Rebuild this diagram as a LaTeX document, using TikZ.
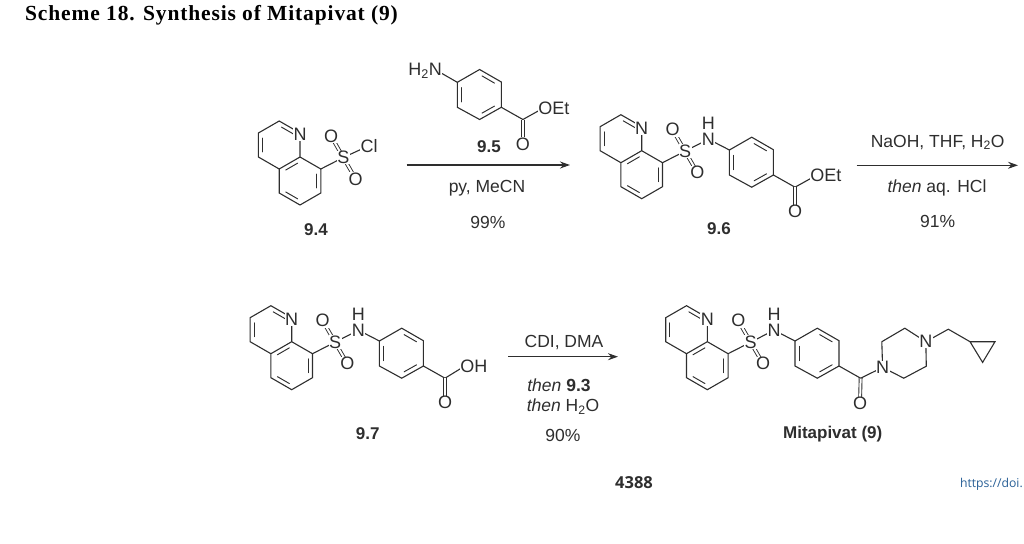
\documentclass[tikz,border=0pt]{standalone}
\usepackage{fontspec}
\setmainfont{Liberation Sans}
\newfontfamily\titlefont[LetterSpace=4]{Liberation Serif}
\newfontfamily\pagefont{Open Sans}
\usetikzlibrary{calc,arrows.meta}
\definecolor{ink}{gray}{0.18}
\definecolor{doiblue}{RGB}{40,95,150}
\tikzset{
  bond/.style={draw=ink,line width=1.1pt,line cap=round},
  inner/.style={draw=ink,line width=0.95pt,line cap=round},
  dblb/.style={draw=ink,line width=0.9pt,double,double distance=2pt},
  atom/.style={fill=white,inner sep=0.5pt,text=ink,font=\fontsize{18}{18}\selectfont},
  lab/.style={text=ink,inner sep=0pt,font=\fontsize{17.5}{17.5}\selectfont},
  cmpd/.style={text=ink,inner sep=0pt,font=\bfseries\fontsize{17}{17}\selectfont},
  rxn/.style={draw=ink,line width=1.2pt,-{Stealth[length=10pt,width=7pt]}},
}
% #1 a, #2 b, #3 ring centre : inner line of a ring double bond
\newcommand{\innerb}[3]{\draw[inner] ($(#1)!.14!(#2)!.2!(#3)$) -- ($(#2)!.14!(#1)!.2!(#3)$);}
% benzene ring, coordinates are relative to the enclosing scope
\newcommand{\benzring}{
  \coordinate (r1) at (87.7,-0.7);\coordinate (r2) at (110,-13.5);\coordinate (r3) at (131.7,-1);
  \coordinate (r4) at (131.7,24.3);\coordinate (r5) at (110,36.5);\coordinate (r6) at (87.7,24.3);
  \coordinate (rc) at (109.7,11.5);\coordinate (co) at (153.3,36.5);
  \draw[bond] (r1)--(r2)--(r3)--(r4)--(r5)--(r6)--cycle;
  \innerb{r1}{r6}{rc}\innerb{r2}{r3}{rc}\innerb{r4}{r5}{rc}
  \draw[bond] (r4)--(co);
}
% quinoline with C8a at the scope origin; #1 is a prefix for the node names
\newcommand{\quinoline}[1]{
  \coordinate (a8a) at (0,0);\coordinate (aN) at (0,-24);\coordinate (a2) at (-20.8,-36);
  \coordinate (a3) at (-41.6,-24);\coordinate (a4) at (-41.6,0);\coordinate (a4a) at (-20.8,12);
  \coordinate (a5) at (-20.8,36);\coordinate (a6) at (0,48);\coordinate (a7) at (20.8,36);
  \coordinate (a8) at (20.8,12);\coordinate (pc) at (-20.8,-12);\coordinate (bc) at (0,24);
  \draw[bond] (a8a)--(aN)--(a2)--(a3)--(a4)--(a4a)--(a8a)--(a8)--(a7)--(a6)--(a5)--(a4a);
  \innerb{aN}{a2}{pc}\innerb{a3}{a4}{pc}\innerb{a8a}{a4a}{bc}\innerb{a5}{a6}{bc}\innerb{a7}{a8}{bc}
  \node[atom] (#1Nq) at (0,-22.5) {N};
}
\newcommand{\sulfonyl}[1]{
  \coordinate (s) at (43.3,0.5);\coordinate (o1) at (31,-21);\coordinate (o2) at (55.7,22);
  \draw[bond] (a8)--(s);
  \draw[dblb] (s)--(o1);\draw[dblb] (s)--(o2);
  \node[atom] (#1Oa) at (o1) {O};
  \node[atom] (#1Ob) at (o2) {O};
}
% sulfonamide N-H and ring
\newcommand{\nhring}[1]{
  \benzring
  \coordinate (nh) at (66.7,-11.5);
  \draw[bond] (s)--(nh)--(r1);
  \node[atom] (#1S) at (s) {S};
  \node[atom] (#1N) at (nh) {N};
  \node[atom,fill=none] (#1H) at (66.7,-27.5) {H};
}
\begin{document}
\begin{tikzpicture}[x=1pt,y=-1pt]
\useasboundingbox (0,0) rectangle (1024,543);
\node[anchor=west,inner sep=0pt,text=black,font=\titlefont\bfseries\fontsize{21.5}{21.5}\selectfont] (title) at (25,15) {Scheme 18. Synthesis of Mitapivat (9)};

% 9.4
\begin{scope}[shift={(300,157)}]
  \quinoline{f}\sulfonyl{f}
  \coordinate (cl) at (64,-9);
  \draw[bond] (s)--(cl);
  \node[atom] (fS) at (s) {S};
  \node[atom,anchor=west] (fCl) at (60,-11) {Cl};
\end{scope}
\node[cmpd] (l94) at (316,230) {9.4};

% 9.5
\begin{scope}[shift={(369.6,83)}]
  \benzring
  \coordinate (oe) at (174,25);\coordinate (cdo) at (153.3,61);\coordinate (h2n) at (68,-12);
  \draw[bond] (co)--(oe);
  \draw[dblb] (co)--(cdo);
  \draw[bond] (r1)--(h2n);
  \node[atom,anchor=west] (eOEt) at (168,25) {OEt};
  \node[atom] (eO) at (cdo) {O};
  \node[atom,anchor=east] (eNH) at (73,-12) {H\textsubscript{2}N};
\end{scope}
\node[cmpd] (l95) at (489,147) {9.5};

\coordinate (a1s) at (406.7,165);\coordinate (a1e) at (570,165);
\draw[rxn] (a1s)--(a1e);
\node[lab] (t1a) at (487,188) {py, MeCN};
\node[lab] (t1b) at (488,222) {99\%};

% 9.6
\begin{scope}[shift={(641.7,150.7)}]
  \quinoline{g}\sulfonyl{g}\nhring{g}
  \coordinate (oe) at (174,25);\coordinate (cdo) at (153.3,61);
  \draw[bond] (co)--(oe);
  \draw[dblb] (co)--(cdo);
  \node[atom,anchor=west] (gOEt) at (168,25) {OEt};
  \node[atom] (gO) at (cdo) {O};
\end{scope}
\node[cmpd] (l96) at (719,229) {9.6};

\coordinate (a2s) at (856.7,165.3);\coordinate (a2e) at (1018,165.3);
\draw[rxn] (a2s)--(a2e);
\node[lab] (t2a) at (937.7,142.3) {NaOH, THF, H\textsubscript{2}O};
\node[lab] (t2b) at (937,187.7) {\textit{then} aq. HCl};
\node[lab] (t2c) at (937.7,221.7) {91\%};

% 9.7
\begin{scope}[shift={(291.7,341.7)}]
  \quinoline{h}\sulfonyl{h}\nhring{h}
  \coordinate (oh) at (172,25);\coordinate (cdo) at (153.3,61);
  \draw[bond] (co)--(oh);
  \draw[dblb] (co)--(cdo);
  \node[atom,anchor=west] (hOH) at (168,25) {OH};
  \node[atom] (hO) at (cdo) {O};
\end{scope}
\node[cmpd] (l97) at (367.7,434) {9.7};

\coordinate (a3s) at (508,356.7);\coordinate (a3e) at (618,356.7);
\draw[rxn] (a3s)--(a3e);
\node[lab] (t3a) at (564,342.7) {CDI, DMA};
\node[lab] (t3b) at (559,385) {\textit{then} \textbf{9.3}};
\node[lab] (t3c) at (563,406.7) {\textit{then} H\textsubscript{2}O};
\node[lab] (t3d) at (563,435) {90\%};

% Mitapivat
\begin{scope}[shift={(707.3,341.7)}]
  \quinoline{m}\sulfonyl{m}\nhring{m}
  \coordinate (cdo) at (152.7,62);
  \coordinate (n1) at (175.3,25.7);\coordinate (p2) at (174.5,0);\coordinate (p3) at (197.5,-13.5);
  \coordinate (n4) at (218.5,0);\coordinate (p5) at (219,24.5);\coordinate (p6) at (196.5,36.5);
  \coordinate (ch2) at (241,-12.5);\coordinate (cp1) at (262.7,0);\coordinate (cp2) at (287.7,0);\coordinate (cp3) at (275.3,20.7);
  \draw[dblb] (co)--(cdo);
  \draw[bond] (co)--(n1)--(p2)--(p3)--(n4)--(p5)--(p6)--(n1);
  \draw[bond] (n4)--(ch2)--(cp1)--(cp2)--(cp3)--(cp1);
  \node[atom] (mO) at (cdo) {O};
  \node[atom] (mNa) at (n1) {N};
  \node[atom] (mNb) at (n4) {N};
\end{scope}
\node[cmpd] (lm) at (832.7,434) {Mitapivat (9)};

\node[inner sep=0pt,text=ink,font=\pagefont\bfseries\fontsize{16.5}{16.5}\selectfont] (pg) at (634,483) {4388};
\node[anchor=east,inner sep=0pt,text=doiblue,font=\pagefont\fontsize{12.2}{12.2}\selectfont] (doi) at (1023,484) {https://doi.};
\end{tikzpicture}
\end{document}
